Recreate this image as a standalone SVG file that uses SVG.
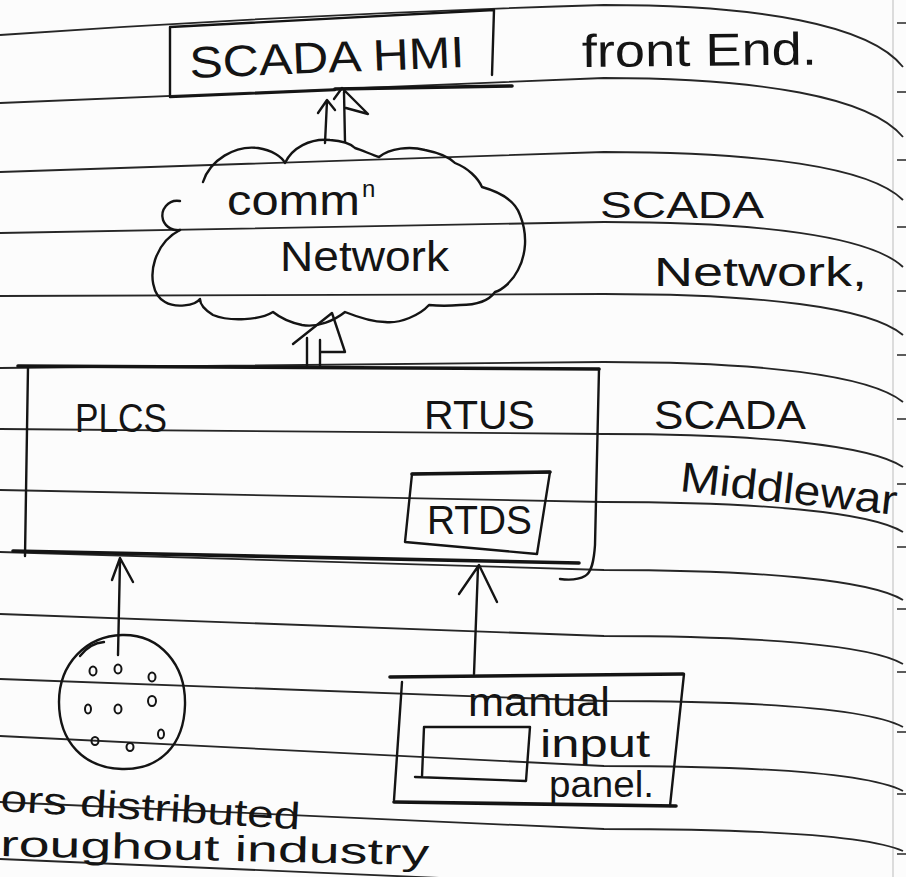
<svg xmlns="http://www.w3.org/2000/svg" width="906" height="877" viewBox="0 0 906 877">
<style>
.rule{fill:none;stroke:#262626;stroke-width:1.8}
.ink{fill:none;stroke:#141414;stroke-width:2.4;stroke-linecap:round;stroke-linejoin:round}
.thick{fill:none;stroke:#141414;stroke-width:3.6;stroke-linecap:round}
.tick{stroke:#333;stroke-width:1.6}
.hand{font-family:"Liberation Sans",Arial,sans-serif;fill:#141414}
.dot{fill:none;stroke:#141414;stroke-width:2}
</style>
<rect x="0" y="0" width="906" height="877" fill="#fcfcfc"/>
<g id="paper">
<line x1="893" y1="0" x2="893" y2="877" stroke="#dcdcdc" stroke-width="2"/>
<path class="rule" d="M0,35 Q300,14 604,5 C760,5 870,25 903,67"/>
<path class="rule" d="M0,103 L604,78 C760,78 870,97 903,137"/>
<path class="rule" d="M0,172 L604,152 C760,152 870,167 903,200"/>
<path class="rule" d="M0,233 L604,222 C760,222 870,236 903,267"/>
<path class="rule" d="M0,296 L604,294 C760,294 870,307 903,335"/>
<path class="rule" d="M0,368 L604,362 C760,362 870,375 903,402"/>
<path class="rule" d="M0,429 L604,434 C760,434 870,445 903,467"/>
<path class="rule" d="M0,490 L604,502 C760,502 870,512 903,532"/>
<path class="rule" d="M0,552 L604,570 C760,570 870,580 903,600"/>
<path class="rule" d="M0,614 L604,636 C760,636 870,645 903,664"/>
<path class="rule" d="M0,679 L604,701 C760,701 870,709 903,727"/>
<path class="rule" d="M0,736 L604,766 C760,766 870,774 903,791"/>
<path class="rule" d="M0,802 L604,829 C760,829 870,836 903,851"/>
<path class="rule" d="M0,859 L604,885 C760,885 870,891 903,905"/>
<g class="tick">
<line x1="897" y1="23" x2="906" y2="23"/><line x1="897" y1="92" x2="906" y2="92"/>
<line x1="897" y1="160" x2="906" y2="160"/><line x1="897" y1="227" x2="906" y2="227"/>
<line x1="897" y1="291" x2="906" y2="291"/><line x1="897" y1="355" x2="906" y2="355"/>
<line x1="897" y1="419" x2="906" y2="419"/><line x1="897" y1="484" x2="906" y2="484"/>
<line x1="897" y1="547" x2="906" y2="547"/><line x1="897" y1="609" x2="906" y2="609"/>
<line x1="897" y1="672" x2="906" y2="672"/><line x1="897" y1="732" x2="906" y2="732"/>
<line x1="897" y1="794" x2="906" y2="794"/><line x1="897" y1="854" x2="906" y2="854"/>
</g>
</g>

<g id="node-hmi">
<path class="ink" d="M170,27 L494,10 M170,27 L170,97 M494,10 L492,75 M170,97 L335,90"/>
<path class="thick" d="M335,89 L512,86"/>
<text class="hand" x="190" y="78" font-size="44" textLength="275" lengthAdjust="spacingAndGlyphs" transform="rotate(-2.3 190 78)">SCADA HMI</text>
</g>
<g id="label-frontend">
<text class="hand" x="582" y="67" font-size="46" textLength="235" lengthAdjust="spacingAndGlyphs" transform="rotate(-0.6 582 67)">front End.</text>
</g>

<g id="node-cloud">
<path class="ink" d="M203,182 C210,160 235,145 258,148 C272,150 282,157 285,163 C292,148 310,138 330,140 C345,141 352,145 355,148 C362,150 372,155 379,157 C390,148 410,146 425,150 C440,153 450,158 455,163 C468,168 478,178 482,187 C500,192 515,200 520,215 C528,235 526,255 518,270 C512,282 502,290 495,292 C488,302 475,305 460,305 C450,306 438,306 429,305 C420,315 400,324 385,322 C370,322 355,316 345,312 C335,320 318,328 302,325 C288,322 278,316 273,312 C260,320 230,322 213,315 C205,310 200,304 200,299 C195,306 175,308 165,302 C152,295 150,275 155,260 C160,245 170,235 180,230"/>
<path class="ink" d="M180,201 C168,199 160,210 163,220 C166,228 174,231 180,230"/>
<text class="hand" x="227" y="215" font-size="42"><tspan textLength="133" lengthAdjust="spacingAndGlyphs">comm</tspan><tspan x="362" y="197" font-size="24">n</tspan></text>
<text class="hand" x="280" y="271" font-size="42" textLength="169" lengthAdjust="spacingAndGlyphs">Network</text>
</g>
<g id="label-network">
<text class="hand" x="600" y="218" font-size="36" textLength="164" lengthAdjust="spacingAndGlyphs">SCADA</text>
<text class="hand" x="654" y="286" font-size="40" textLength="213" lengthAdjust="spacingAndGlyphs">Network,</text>
</g>

<g id="node-middleware">
<path class="thick" d="M18,366 L599,369"/>
<path class="ink" d="M28,367 L25,556 M599,369 L595,545 C594,560 592,572 585,576 C578,580 568,580 560,579"/>
<path class="thick" d="M13,551 L579,563"/>
<text class="hand" x="75" y="432" font-size="40" textLength="92" lengthAdjust="spacingAndGlyphs">PLCS</text>
<text class="hand" x="424" y="429" font-size="40" textLength="111" lengthAdjust="spacingAndGlyphs">RTUS</text>
</g>
<g id="node-rtds">
<path class="ink" d="M412,474 L550,472 L537,554 L405,542 Z"/>
<path class="thick" d="M412,474 L550,472"/>
<text class="hand" x="427" y="534" font-size="40" textLength="105" lengthAdjust="spacingAndGlyphs">RTDS</text>
</g>
<g id="label-middleware">
<text class="hand" x="654" y="429" font-size="40" textLength="152" lengthAdjust="spacingAndGlyphs">SCADA</text>
<text class="hand" x="679" y="491" font-size="42" textLength="218" lengthAdjust="spacingAndGlyphs" transform="rotate(6.3 679 491)">Middlewar</text>
</g>

<g id="node-sensors">
<path class="ink" d="M122,635 C160,634 186,665 185,705 C184,745 160,770 122,769 C84,768 59,742 59,702 C59,664 86,636 122,635 Z"/>
<path class="ink" d="M80,656 Q90,643 104,642"/>
<g class="dot">
<ellipse cx="93" cy="671" rx="3.5" ry="4.5"/><ellipse cx="118" cy="669" rx="3.5" ry="4.5"/>
<ellipse cx="152" cy="677" rx="3.5" ry="4.5"/><ellipse cx="88" cy="709" rx="3" ry="4.5"/>
<ellipse cx="118" cy="709" rx="3.5" ry="4.5"/><ellipse cx="152" cy="701" rx="4" ry="5"/>
<ellipse cx="161" cy="734" rx="3" ry="4.5"/><ellipse cx="95" cy="741" rx="3.5" ry="4"/>
<ellipse cx="130" cy="747" rx="3.5" ry="4"/>
</g>
<text class="hand" x="0" y="811" font-size="38" textLength="300" lengthAdjust="spacingAndGlyphs" transform="rotate(3.5 0 811)">ors distributed</text>
<text class="hand" x="0" y="856" font-size="36" textLength="429" lengthAdjust="spacingAndGlyphs" transform="rotate(1.2 0 856)">roughout industry</text>
</g>

<g id="node-panel">
<path class="ink" d="M402,682 L394,800 M684,674 L670,806"/>
<path class="thick" d="M390,677 L683,674 M394,802 L676,806"/>
<path class="ink" d="M424,727 L530,727 L526,781 L415,777 M424,727 L422,777"/>
<text class="hand" x="468" y="716" font-size="40" textLength="142" lengthAdjust="spacingAndGlyphs">manual</text>
<text class="hand" x="540" y="757" font-size="38" textLength="110" lengthAdjust="spacingAndGlyphs">input</text>
<text class="hand" x="549" y="797" font-size="36" textLength="105" lengthAdjust="spacingAndGlyphs">panel.</text>
</g>

<g id="connectors">
<path class="ink" d="M325,143 L327,101 M318,113 L327,100 L335,110"/>
<path class="ink" d="M345,142 L344,92 M334,99 L342,88 L368,114 L346,108"/>
<path class="ink" d="M307,366 L307,338 M320,366 L320,340 M293,344 L332,313 L345,352 L320,352"/>
<path class="ink" d="M120,561 L118,655 M112,580 L120,558 L133,582"/>
<path class="ink" d="M478,567 L474,674 M459,594 L479,565 L497,602"/>
</g>
</svg>
